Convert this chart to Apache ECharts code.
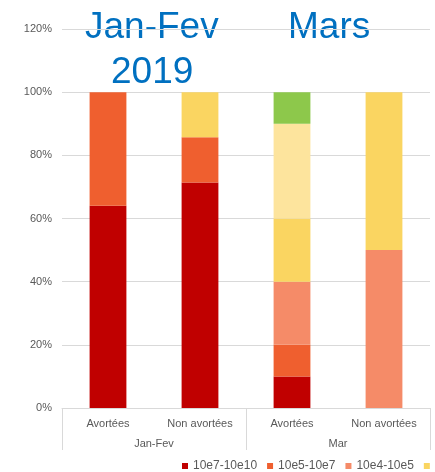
<!DOCTYPE html>
<html><head><meta charset="utf-8">
<script src="https://cdn.jsdelivr.net/npm/echarts@6/dist/echarts.min.js"></script>
<style>html,body{margin:0;padding:0;background:#fff}#c{width:435px;height:472px}</style>
</head><body><div id="c"></div>
<script>
const categories = ['Avortées', 'Non avortées', 'Avortées', 'Non avortées'];
const groups = ['Jan-Fev', 'Mar'];
const seriesNames = ['10e7-10e10', '10e5-10e7', '10e4-10e5', '10e3-10e4', '10e2-10e3', '<10e2'];
const s1 = [0.64, 0.714, 0.10, 0];
const s2 = [0.36, 0.143, 0.10, 0];
const s3 = [0, 0, 0.20, 0.50];
const s4 = [0, 0.143, 0.20, 0.50];
const s5 = [0, 0, 0.30, 0];
const s6 = [0, 0, 0.10, 0];
const colors = ['#C00000', '#EF5F2F', '#F58B68', '#FAD561', '#FDE49D', '#8DC84B'];
const values = [s1, s2, s3, s4, s5, s6];
const FF = 'Liberation Sans, Arial, sans-serif';

const chart = echarts.init(document.getElementById('c'));
chart.setOption({
  animation: false,
  textStyle: {fontFamily: FF},
  grid: {left: 62, right: 5, top: 29, bottom: 64},
  legend: {
    left: 182, top: 460, width: 1000, padding: 0, itemWidth: 6, itemHeight: 6, itemGap: 10,
    icon: 'rect',
    textStyle: {color: '#595959', fontSize: 12},
    data: seriesNames
  },
  xAxis: [{
    type: 'category', data: categories, position: 'bottom',
    axisLine: {lineStyle: {color: '#D9D9D9'}},
    axisTick: {show: false},
    axisLabel: {color: '#595959', fontSize: 11, margin: 10, interval: 0}
  }, {
    type: 'category', data: groups, position: 'bottom',
    axisLine: {show: false},
    axisTick: {show: true, length: 42, lineStyle: {color: '#D9D9D9'}},
    axisLabel: {color: '#595959', fontSize: 11, margin: 30}
  }],
  yAxis: {
    type: 'value', min: 0, max: 1.2, interval: 0.2,
    axisLine: {show: false}, axisTick: {show: false},
    splitLine: {lineStyle: {color: '#D9D9D9'}},
    axisLabel: {color: '#595959', fontSize: 11, margin: 10, formatter: v => Math.round(v * 100) + '%'}
  },
  series: values.map((v, i) => ({
    name: seriesNames[i], type: 'bar', stack: 'a', data: v, barWidth: '40%',
    xAxisIndex: 0,
    itemStyle: {color: colors[i]}
  })),
  graphic: [
    {type: 'text', left: 85, top: 9, style: {text: 'Jan-Fev', fill: '#0070C0', fontSize: 37, fontFamily: FF}},
    {type: 'text', left: 111, top: 54, style: {text: '2019', fill: '#0070C0', fontSize: 37, fontFamily: FF}},
    {type: 'text', left: 288, top: 9, style: {text: 'Mars', fill: '#0070C0', fontSize: 37, fontFamily: FF}}
  ]
});
</script></body></html>
